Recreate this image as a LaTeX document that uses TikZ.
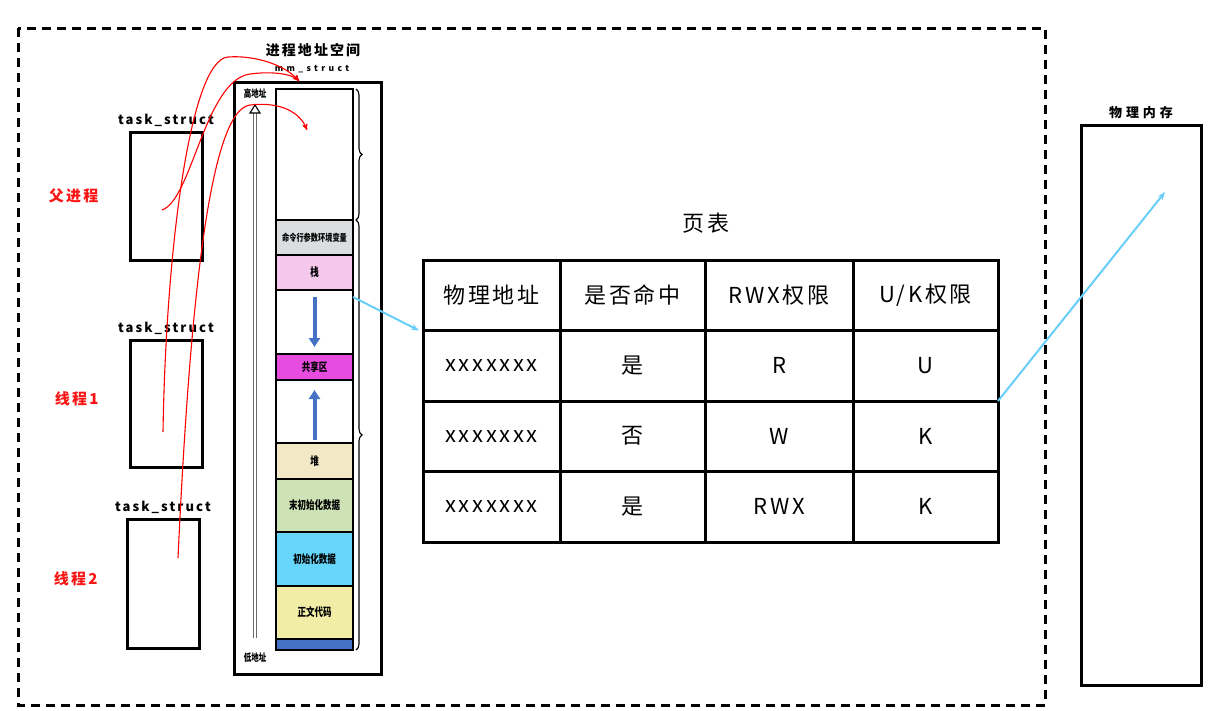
\documentclass[tikz,border=0pt]{standalone}
\usepackage{fontspec}
\setmainfont{Noto Sans CJK SC}
\usepackage{tikz}
\usetikzlibrary{arrows, arrows.meta, positioning, decorations.pathreplacing}

\definecolor{argsgray}{RGB}{218,222,224}
\definecolor{stackpink}{RGB}{245,199,237}
\definecolor{sharedmag}{RGB}{231,76,224}
\definecolor{heapbeige}{RGB}{243,232,197}
\definecolor{bssgreen}{RGB}{205,226,181}
\definecolor{datacyan}{RGB}{102,214,251}
\definecolor{textyellow}{RGB}{241,237,166}
\definecolor{stripblue}{RGB}{68,114,196}
\definecolor{mapblue}{RGB}{104,206,248}
\definecolor{labelred}{RGB}{250,20,20}

\newcommand{\tallcjk}[1]{\scalebox{1}[1.35]{#1}}

\begin{document}
\begin{tikzpicture}[x=1pt, y=-1pt, >=stealth', node distance=0pt,
    box/.style={draw, line width=3pt, outer sep=0pt, inner sep=0pt},
    seg/.style={draw, line width=1.5pt, outer sep=0pt, inner sep=0pt, minimum width=77pt, font=\fontsize{8.5}{9}\selectfont\bfseries},
    cell/.style={draw, line width=3pt, outer sep=0pt, inner sep=0pt, minimum height=70.5pt, font=\fontsize{22}{24}\selectfont\addfontfeatures{LetterSpace=12}},
    tslabel/.style={font=\fontsize{13}{14}\selectfont\bfseries\addfontfeatures{LetterSpace=16}},
    redlabel/.style={text=labelred, font=\fontsize{15}{16}\selectfont\bfseries\addfontfeatures{LetterSpace=15}},
    addrlabel/.style={font=\fontsize{7.5}{8}\selectfont\bfseries},
    growarrow/.style={stripblue, line width=4pt, -{Triangle[width=11pt, length=9pt]}},
    maparrow/.style={mapblue, line width=2pt, -{Stealth[length=8pt, width=6pt]}},
    linkcurve/.style={red, line width=1.1pt, ->},
    segbrace/.style={decorate, decoration={brace, amplitude=6pt}, line width=1.1pt}]

  \useasboundingbox (0,0) rectangle (1224,710);
  \draw[line width=3pt, dash pattern=on 9pt off 6pt] (18,28) rectangle (1045,705);

  % process address space
  \node[box, minimum width=147pt, minimum height=592pt, anchor=north west] (proc) at (234,82) {};
  \node[font=\fontsize{14}{15}\selectfont\bfseries\addfontfeatures{LetterSpace=15}] (vastitle) at (313,50) {进程地址空间};
  \node[font=\fontsize{8.5}{9}\selectfont\bfseries\addfontfeatures{LetterSpace=40}] (mmlabel) at (312,69) {mm\_struct};

  \node[seg, minimum height=131pt, anchor=north west] (envtop) at (276,89) {};
  \node[seg, fill=argsgray, minimum height=35pt, below=of envtop, font=\fontsize{7.2}{8}\selectfont\bfseries] (args) {\tallcjk{命令行参数环境变量}};
  \node[seg, fill=stackpink, minimum height=35pt, below=of args] (stack) {\tallcjk{栈}};
  \node[seg, minimum height=64pt, below=of stack] (gapdown) {};
  \node[seg, fill=sharedmag, minimum height=26pt, below=of gapdown] (shared) {\tallcjk{共享区}};
  \node[seg, minimum height=63pt, below=of shared] (gapup) {};
  \node[seg, fill=heapbeige, minimum height=36pt, below=of gapup] (heap) {\tallcjk{堆}};
  \node[seg, fill=bssgreen, minimum height=53pt, below=of heap] (bss) {\tallcjk{末初始化数据}};
  \node[seg, fill=datacyan, minimum height=54pt, below=of bss] (data) {\tallcjk{初始化数据}};
  \node[seg, fill=textyellow, minimum height=53pt, below=of data] (code) {\tallcjk{正文代码}};
  \node[seg, fill=stripblue, minimum height=11pt, below=of code] (strip) {};

  \draw[segbrace] ([xshift=3pt]envtop.north east) -- ([xshift=3pt]envtop.south east);
  \draw[segbrace] ([xshift=3pt]args.north east) -- ([xshift=3pt]strip.south east);

  \draw[growarrow] ([yshift=-7pt]gapdown.north) -- ([yshift=7pt]gapdown.south);
  \draw[growarrow] ([yshift=3pt]gapup.south) -- ([yshift=-10pt]gapup.north);

  % high / low address
  \node[addrlabel] (highaddr) at (255,94) {\tallcjk{高地址}};
  \node[addrlabel] (lowaddr) at (255,658) {\tallcjk{低地址}};
  \coordinate (addrtip) at (255,105);
  \coordinate (addrbase) at (255,638);
  \draw[gray!85!black, line width=1.1pt, double=white, double distance=2.6pt] (addrbase) -- ([yshift=-8pt]addrtip);
  \draw[line width=1.1pt, fill=white] ([xshift=-5pt, yshift=-8pt]addrtip) -- (addrtip) -- ([xshift=5pt, yshift=-8pt]addrtip) -- cycle;

  % task_struct of each thread
  \node[box, minimum width=72pt, minimum height=128pt, anchor=north west] (ts1) at (130,132) {};
  \node[box, minimum width=72pt, minimum height=127pt, anchor=north west] (ts2) at (130,340) {};
  \node[box, minimum width=72pt, minimum height=129pt, anchor=north west] (ts3) at (127,519) {};
  \node[tslabel, above=2pt of ts1] (ts1label) {task\_struct};
  \node[tslabel, above=2pt of ts2] (ts2label) {task\_struct};
  \node[tslabel, above=2pt of ts3] (ts3label) {task\_struct};
  \node[redlabel, left=28pt of ts1] (parent) {父进程};
  \node[redlabel, left=28pt of ts2, yshift=5pt] (thread1) {线程1};
  \node[redlabel, left=26pt of ts3, yshift=5pt] (thread2) {线程2};

  \coordinate (pstart) at (162,210);
  \coordinate (t1start) at (163,432);
  \coordinate (t2start) at (178,558);
  \coordinate (mmtop) at (299,81);
  \coordinate (vmhit) at (307,130);
  \draw[linkcurve] (t1start) .. controls (166,250) and (190,60) .. (228,57) .. controls (255,55) and (285,65) .. (mmtop);
  \draw[linkcurve] (pstart) .. controls (192,200) and (205,80) .. (250,74) .. controls (272,71) and (292,74) .. (mmtop);
  \draw[linkcurve] (t2start) .. controls (190,300) and (210,110) .. (250,105) .. controls (280,101.5) and (300,112) .. (vmhit);

  % page table
  \node[font=\fontsize{22}{24}\selectfont\addfontfeatures{LetterSpace=12}] (pttitle) at (706,223) {页表};
  \node[cell, minimum width=137pt, anchor=north west] (h1) at (423,260) {物理地址};
  \node[cell, minimum width=145pt, right=of h1] (h2) {是否命中};
  \node[cell, minimum width=148pt, right=of h2] (h3) {RWX权限};
  \node[cell, minimum width=145pt, right=of h3] (h4) {U/K权限};
  \node[cell, minimum width=137pt, below=of h1] (a1) {xxxxxxx};
  \node[cell, minimum width=145pt, right=of a1] (a2) {是};
  \node[cell, minimum width=148pt, right=of a2] (a3) {R};
  \node[cell, minimum width=145pt, right=of a3] (a4) {U};
  \node[cell, minimum width=137pt, below=of a1] (b1) {xxxxxxx};
  \node[cell, minimum width=145pt, right=of b1] (b2) {否};
  \node[cell, minimum width=148pt, right=of b2] (b3) {W};
  \node[cell, minimum width=145pt, right=of b3] (b4) {K};
  \node[cell, minimum width=137pt, below=of b1] (c1) {xxxxxxx};
  \node[cell, minimum width=145pt, right=of c1] (c2) {是};
  \node[cell, minimum width=148pt, right=of c2] (c3) {RWX};
  \node[cell, minimum width=145pt, right=of c3] (c4) {K};

  % physical memory
  \node[box, minimum width=120pt, minimum height=560pt, anchor=north west] (mem) at (1081,125) {};
  \node[font=\fontsize{13}{14}\selectfont\bfseries\addfontfeatures{LetterSpace=30}, above=3pt of mem] (memlabel) {物理内存};
  \coordinate (memhit) at (1165,192);

  \draw[maparrow] ([yshift=-7pt]gapdown.north east) -- ([xshift=-4pt]a1.north west);
  \draw[maparrow] (a4.south east) -- (memhit);
\end{tikzpicture}
\end{document}
